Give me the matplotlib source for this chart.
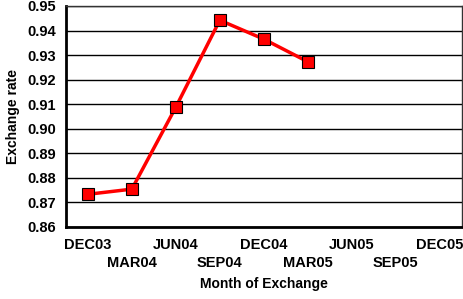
import matplotlib
matplotlib.use("Agg")
import matplotlib.pyplot as plt

months = ["DEC03", "MAR04", "JUN04", "SEP04", "DEC04", "MAR05", "JUN05", "SEP05", "DEC05"]
rate_months = ["DEC03", "MAR04", "JUN04", "SEP04", "DEC04", "MAR05"]
rates = [0.8733, 0.8754, 0.9088, 0.9442, 0.9365, 0.9273]
y_ticks = [0.86, 0.87, 0.88, 0.89, 0.90, 0.91, 0.92, 0.93, 0.94, 0.95]

plt.rcParams['font.family'] = ['Liberation Sans', 'DejaVu Sans']
plt.rcParams['font.weight'] = 'bold'

fig, ax = plt.subplots(figsize=(4.64, 2.99), dpi=100)
fig.subplots_adjust(left=0.142, right=0.995, top=0.98, bottom=0.241)

xpos = [months.index(m) for m in rate_months]
ax.plot(xpos, rates, color="#ff0000", lw=2.5, marker="s", markersize=8,
        markerfacecolor="#ff0000", markeredgecolor="black", markeredgewidth=0.8,
        zorder=3)

ax.set_xlim(-0.5, len(months) - 0.5)
ax.set_ylim(0.86, 0.95)
ax.set_yticks(y_ticks)
ax.set_yticklabels([f"{v:.2f}" for v in y_ticks], fontsize=10.5, fontweight="bold")
ax.set_xticks(range(len(months)))
ax.set_xticklabels(months, fontsize=10.5, fontweight="bold")
for i, tick in enumerate(ax.xaxis.get_major_ticks()):
    tick.set_pad(8 if i % 2 == 0 else 21)
ax.tick_params(length=0)
ax.tick_params(axis="y", pad=7)

ax.grid(axis="y", color="black", lw=1)
ax.set_axisbelow(True)
for side in ["left", "bottom"]:
    ax.spines[side].set_linewidth(2)
    ax.spines[side].set_color("black")
for side in ["top", "right"]:
    ax.spines[side].set_linewidth(1)
    ax.spines[side].set_color("#333333")

ax.set_xlabel("Month of Exchange", fontsize=10, fontweight="bold", labelpad=5)
ax.set_ylabel("Exchange rate", fontsize=10, fontweight="bold", labelpad=5)

fig.savefig("out.png", dpi=100)
